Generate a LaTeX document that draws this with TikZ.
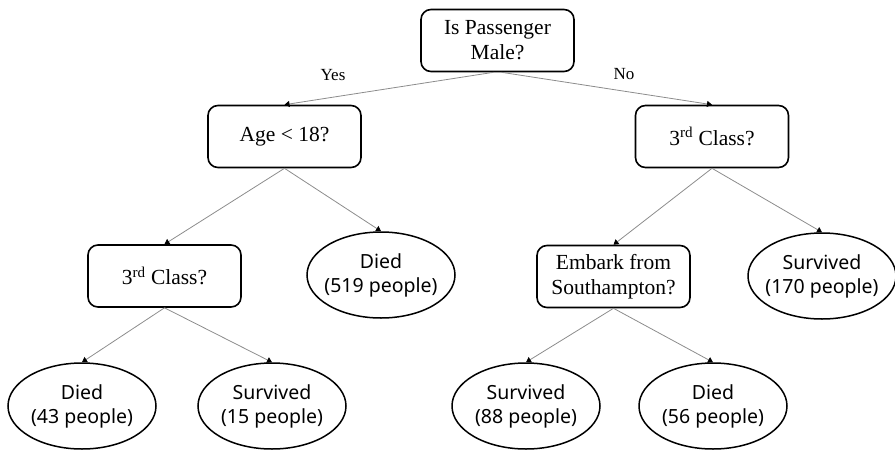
\documentclass[tikz,border=0pt]{standalone}
\usepackage{fontspec}
\setmainfont{Liberation Serif}
\newfontfamily\leaffont{Noto Sans}
\usetikzlibrary{shapes.geometric,arrows.meta}

\tikzset{
  question/.style={draw=black, line width=1.6pt, rounded corners=10pt,
    minimum width=153pt, minimum height=62pt, align=center, inner sep=0pt,
    font=\fontsize{21.5}{25}\selectfont},
  leaf/.style={draw=black, line width=1.5pt, ellipse,
    minimum width=148pt, minimum height=86pt, align=center, inner sep=0pt,
    font=\leaffont\fontsize{19.5}{24}\selectfont},
  branch/.style={draw=gray!90, line width=0.8pt,
    -{Triangle[width=6pt,length=5pt,color=black]}},
  answer/.style={font=\fontsize{17}{20}\selectfont, inner sep=0pt}
}
\newcommand{\outcome}[2]{\makebox[96pt]{#1}\\\makebox[96pt]{(#2 people)}}

\begin{document}
\begin{tikzpicture}[x=1pt,y=-1pt]
				\useasboundingbox (0,0) rectangle (895,450);
				% questions
				\node[question] (male) at (497.5,40.5) {Is Passenger\\Male?};
				\node[question] (age) at (284.5,136.5) {Age < 18?};
				\node[question] (classR) at (712,136.5) {3\textsuperscript{rd} Class?};
				\node[question] (classL) at (164.5,276) {3\textsuperscript{rd} Class?};
				\node[question] (embark) at (613.5,276.5) {Embark from\\Southampton?};
				% outcomes
				\node[leaf] (died519) at (381,275) {\outcome{Died}{519}};
				\node[leaf] (surv170) at (822,276) {\outcome{Survived}{170}};
				\node[leaf] (died43) at (82,406) {\outcome{Died}{43}};
				\node[leaf] (surv15) at (272,406) {\outcome{Survived}{15}};
				\node[leaf] (surv88) at (526,406) {\outcome{Survived}{88}};
				\node[leaf] (died56) at (713,406) {\outcome{Died}{56}};
				% branches
				\draw[branch] ([xshift=-4pt]male.south) -- (age.north);
				\draw[branch] ([xshift=4pt]male.south) -- (classR.north);
				\node[answer] (yes) at (333,75) {Yes};
				\node[answer] (no) at (624,74) {No};
				\draw[branch] (age.south) -- (classL.north);
				\draw[branch] (age.south) -- (died519.north);
				\draw[branch] (classR.south) -- (embark.north);
				\draw[branch] (classR.south) -- (surv170.north);
				\draw[branch] (classL.south) -- (died43.north);
				\draw[branch] (classL.south) -- (surv15.north);
				\draw[branch] (embark.south) -- (surv88.north);
				\draw[branch] (embark.south) -- (died56.north);
			\end{tikzpicture}
\end{document}
